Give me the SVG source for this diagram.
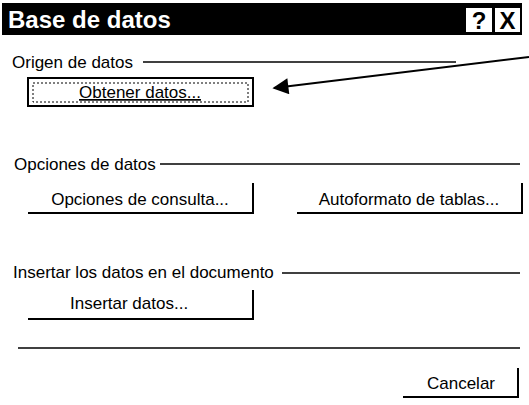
<svg xmlns="http://www.w3.org/2000/svg" width="529" height="405" viewBox="0 0 529 405">
<style>
.t{font-family:"Liberation Sans",Arial,sans-serif;font-size:17px;fill:#000}
.g{stroke:#000;stroke-width:1.5;fill:none}
.sh{stroke:#000;stroke-width:2;fill:none}
.tb{font-family:"Liberation Sans",Arial,sans-serif;font-size:24px;font-weight:bold}
</style>
<defs>
<marker id="ah" viewBox="0 0 10 10" refX="9" refY="5" markerWidth="11" markerHeight="8" markerUnits="strokeWidth" orient="auto">
<path d="M0,0 L10,5 L0,10 Z" fill="#000"/>
</marker>
</defs>
<rect width="529" height="405" fill="#fff"/>
<g id="titlebar">
<rect x="2" y="3" width="520" height="32" fill="#000"/>
<text class="tb" x="8" y="28" fill="#fff">Base de datos</text>
<rect x="466" y="8" width="26" height="24" fill="#fff"/>
<text class="tb" x="479" y="29" text-anchor="middle" fill="#000">?</text>
<rect x="495" y="8" width="25" height="24" fill="#fff"/>
<text class="tb" x="507.5" y="29" text-anchor="middle" fill="#000" font-size="22">X</text>
</g>
<g id="origen">
<text class="t" x="12" y="68">Origen de datos</text>
<line class="g" x1="143" y1="62" x2="456" y2="62"/>
</g>
<g id="btn-obtener">
<rect x="28" y="78" width="225" height="28" fill="none" stroke="#000" stroke-width="2"/>
<rect x="33" y="83" width="215" height="19" fill="none" stroke="#000" stroke-width="1" stroke-dasharray="2 2"/>
<text class="t" x="140" y="98" text-anchor="middle" text-decoration="underline">Obtener datos...</text>
</g>
<g id="opciones">
<text class="t" x="14" y="170">Opciones de datos</text>
<line class="g" x1="160" y1="164" x2="520" y2="164"/>
</g>
<g id="btn-consulta">
<polyline class="sh" points="253,183 253,213 28,213"/>
<text class="t" x="140" y="205" text-anchor="middle" fill="#222">Opciones de consulta...</text>
</g>
<g id="btn-autoformato">
<polyline class="sh" points="522,183 522,213 297,213"/>
<text class="t" x="409" y="205" text-anchor="middle">Autoformato de tablas...</text>
</g>
<g id="insertar">
<text class="t" x="13" y="278">Insertar los datos en el documento</text>
<line class="g" x1="282" y1="273" x2="520" y2="273"/>
</g>
<g id="btn-insertar">
<polyline class="sh" points="253,290 253,319 28,319"/>
<text class="t" x="70" y="309">Insertar datos...</text>
</g>
<g id="separator">
<line class="g" x1="18" y1="348" x2="520" y2="348"/>
</g>
<g id="btn-cancelar">
<polyline class="sh" points="518,368 518,397 403,397"/>
<text class="t" x="461" y="389" text-anchor="middle">Cancelar</text>
</g>
<g id="connectors">
<line x1="529" y1="57" x2="274" y2="88" stroke="#000" stroke-width="2" marker-end="url(#ah)"/>
</g>
</svg>
